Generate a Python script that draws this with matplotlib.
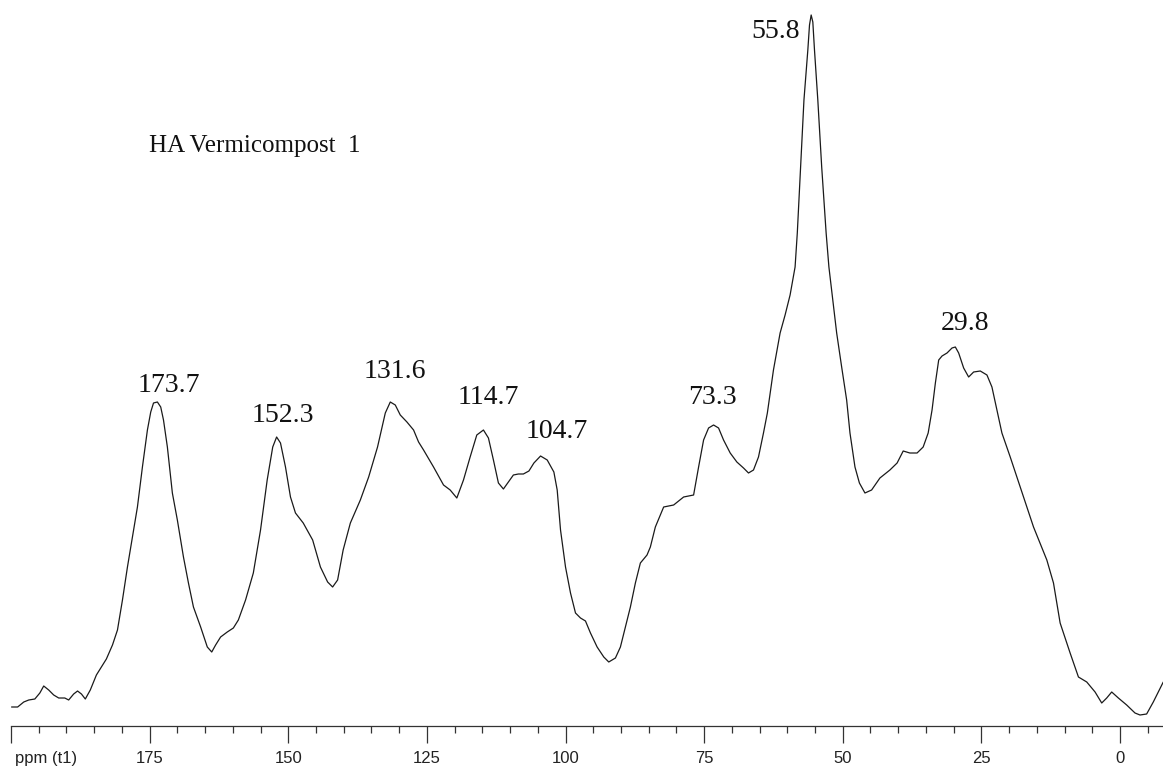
import matplotlib.pyplot as plt
from matplotlib.ticker import MultipleLocator, FixedLocator

# Spectrum trace (chemical shift in ppm, intensity in arbitrary units)
ppm = [199.9, 198.8, 197.7, 196.8, 195.7, 194.8, 194.1, 193.2, 192.3, 191.4,
       190.3, 189.6, 188.7, 188.0, 187.3, 186.6, 185.7, 184.6, 183.7, 182.8,
       181.7, 180.8, 179.9, 179.0, 178.1, 177.2, 176.3, 175.4, 174.8, 174.3,
       173.6, 173.0, 172.5, 171.8, 170.9, 170.0, 168.9, 168.0, 167.1, 165.8,
       164.6, 163.8, 163.1, 162.2, 161.0, 159.9, 159.0, 157.7, 156.3, 155.0,
       153.8, 152.8, 152.1, 151.4, 150.5, 149.6, 148.7, 147.3, 145.6, 144.2,
       142.9, 142.0, 141.1, 140.1, 138.8, 137.0, 135.5, 133.9, 132.5, 131.6,
       130.7, 129.8, 128.6, 127.4, 126.5, 125.6, 123.8, 122.0, 120.8, 119.6,
       118.4, 117.2, 116.0, 114.8, 113.9, 113.0, 112.1, 111.2, 110.3, 109.4,
       108.5, 107.6, 106.6, 105.7, 104.5, 103.3, 102.1, 101.5, 100.9, 100.0,
       99.1, 98.2, 97.3, 96.4, 95.5, 94.3, 93.1, 92.2, 91.0, 90.1,
       89.2, 88.3, 87.4, 86.5, 85.3, 84.7, 83.8, 82.3, 80.5, 78.7,
       76.9, 76.0, 75.1, 74.2, 73.3, 72.4, 71.5, 70.3, 69.1, 67.9,
       67.0, 66.1, 65.2, 64.3, 63.6, 62.5, 61.3, 60.4, 59.5, 58.6,
       58.2, 57.6, 57.0, 56.3, 56.0, 55.7, 55.4, 55.1, 54.5, 53.8,
       53.0, 52.5, 51.8, 51.1, 50.2, 49.3, 48.7, 47.8, 47.0, 46.3,
       46.0, 44.8, 43.3, 41.5, 40.2, 39.1, 37.9, 36.6, 35.5, 34.6,
       33.9, 33.3, 32.7, 32.1, 31.2, 30.3, 29.7, 29.1, 28.2, 27.3,
       26.4, 25.2, 24.0, 23.1, 22.2, 21.3, 19.8, 18.0, 15.6, 13.2,
       12.0, 10.8, 9.0, 7.5, 6.0, 4.5, 3.3, 2.4, 1.5, 0.3,
       -1.2, -2.7, -3.6, -4.8, -6.0, -7.8]
intensity = [19, 19, 24, 26, 27, 33, 40, 36, 31, 28,
             28, 26, 32, 35, 32, 27, 36, 51, 59, 67,
             81, 96, 126, 159, 189, 219, 259, 296, 314, 323,
             324, 319, 306, 279, 233, 206, 169, 143, 119, 99,
             79, 74, 81, 89, 94, 98, 106, 126, 153, 196,
             246, 279, 289, 283, 259, 229, 213, 203, 186, 159,
             144, 139, 146, 176, 203, 226, 249, 279, 313, 324,
             321, 311, 304, 296, 284, 276, 259, 241, 236, 228,
             246, 269, 291, 296, 288, 266, 243, 237, 244, 251,
             252, 252, 255, 263, 270, 266, 254, 236, 196, 159,
             133, 113, 108, 105, 93, 79, 69, 64, 68, 79,
             99, 119, 143, 163, 171, 179, 199, 219, 221, 229,
             231, 259, 286, 298, 301, 298, 286, 273, 264, 258,
             253, 256, 269, 293, 313, 356, 393, 411, 431, 459,
             493, 559, 626, 676, 701, 711, 704, 676, 626, 559,
             493, 459, 426, 393, 359, 326, 293, 259, 243, 236,
             233, 236, 248, 256, 263, 275, 273, 273, 279, 293,
             316, 343, 366, 370, 373, 378, 379, 373, 358, 349,
             354, 355, 351, 339, 316, 293, 269, 239, 199, 166,
             143, 103, 73, 49, 44, 34, 23, 28, 34, 28,
             21, 13, 11, 12, 24, 44]

# Peak labels
peak_labels = ['173.7', '152.3', '131.6', '114.7', '104.7', '73.3', '55.8', '29.8']
label_ppm = [171.6, 150.9, 130.7, 113.9, 101.5, 73.5, 62.2, 27.9]
label_height = [341, 310, 354, 329, 294, 329, 694, 402]

tick_values = [175, 150, 125, 100, 75, 50, 25, 0]

fig = plt.figure(figsize=(11.63, 7.67), dpi=100)
ax = fig.add_axes([11 / 1163, 41 / 767, 1152 / 1163, 726 / 767])

ax.plot(ppm, intensity, color='#1a1a1a', linewidth=0.9,
        solid_joinstyle='round', solid_capstyle='round')

ax.set_xlim(200, -7.75)
ax.set_ylim(0, 726)

# Only the bottom axis, like an NMR printout
for side in ['top', 'left', 'right']:
    ax.spines[side].set_visible(False)
ax.spines['bottom'].set_color('#333333')
ax.spines['bottom'].set_linewidth(0.9)
ax.set_yticks([])

ax.xaxis.set_major_locator(FixedLocator([200] + tick_values))
ax.xaxis.set_minor_locator(MultipleLocator(5))
ax.set_xticklabels([''] + [str(v) for v in tick_values],
                   fontfamily='Liberation Sans', fontsize=12, color='#222222')
ax.tick_params(axis='x', which='major', length=12, width=0.9, color='#333333', pad=6)
ax.tick_params(axis='x', which='minor', length=5, width=0.9, color='#333333')

fig.text(15 / 1163, 1 - 758 / 767, 'ppm (t1)', fontfamily='Liberation Sans',
         fontsize=12, color='#222222', ha='left', va='center')

for text, x, y in zip(peak_labels, label_ppm, label_height):
    ax.text(x, y, text, fontfamily='Liberation Serif', fontsize=20,
            ha='center', va='center', color='#111111')

ax.text(0.12, 1 - 146 / 726, 'HA Vermicompost  1', transform=ax.transAxes,
        fontfamily='Liberation Serif', fontsize=18, ha='left', va='center',
        color='#111111')

fig.savefig('out.png', dpi=100)
